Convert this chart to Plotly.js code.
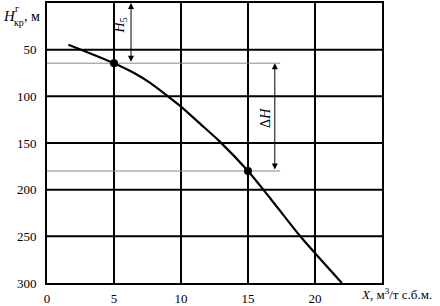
<!DOCTYPE html>
<html><head><meta charset="utf-8">
<script src="https://cdn.plot.ly/plotly-3.0.1.min.js"></script>
<style>html,body{margin:0;padding:0;background:#fff}#c{width:440px;height:306px}</style>
</head><body><div id="c"></div>
<script>
// Curve: critical depth H (m) vs specific water inflow X (m3/t)
const curveX = [1.6, 5, 6.5, 7.7, 9, 10, 11.4, 12.9, 15, 16.7, 18.9, 22];
const curveY = [44.7, 64.5, 75, 85.6, 99.7, 111, 129, 148.5, 180, 210, 250, 300];
// Marked points
const markX = [5, 15];
const markY = [64.5, 180];
// Tick labels
const xTicks = [0, 5, 10, 15, 20];
const yTicks = [50, 100, 150, 200, 250, 300];
const xGrid = [5, 10, 15, 20];
const yGrid = [50, 100, 150, 200, 250];

const font = 'Liberation Serif, Times New Roman, serif';
const W = 440, H = 306, L = 47, R = 58, T = 3, B = 23;
const pw = W - L - R, ph = H - T - B;
function px(x){return (x - L)/pw;}
function py(y){return 1 - (y - T)/ph;}

const shapes = [];
xGrid.forEach(v => shapes.push({type:'line', xref:'x', yref:'paper', x0:v, x1:v, y0:0, y1:1, line:{color:'#000', width:2}, layer:'below'}));
yGrid.forEach(v => shapes.push({type:'line', xref:'paper', yref:'y', x0:0, x1:1, y0:v, y1:v, line:{color:'#000', width:2}, layer:'below'}));
markY.forEach(v => shapes.push({type:'line', xref:'x', yref:'y', x0:0, x1:17.4, y0:v, y1:v, line:{color:'#888', width:1}, layer:'below'}));

const arrowCommon = {text:'', showarrow:true, axref:'x', ayref:'y', xref:'x', yref:'y', arrowhead:2, arrowside:'end+start', arrowsize:1.2, arrowwidth:1, arrowcolor:'#000', standoff:0, startstandoff:0};
function lab(text, x, y, size, xa, ya, extra){
  return Object.assign({text:text, x:px(x), y:py(y), xref:'paper', yref:'paper', xanchor:xa, yanchor:ya, showarrow:false, borderpad:0, font:{family:font, size:size, color:'#000'}}, extra||{});
}
const annotations = [
  Object.assign({}, arrowCommon, {x:6.27, y:0, ax:6.27, ay:markY[0]}),
  Object.assign({}, arrowCommon, {x:17.0, y:markY[0], ax:17.0, ay:markY[1]}),
  {text:'<i>H</i><sub>5</sub>', x:5.45, y:24, xref:'x', yref:'y', showarrow:false, textangle:-90, font:{family:font, size:14, color:'#000'}},
  {text:'Δ<i>H</i>', x:16.35, y:123, xref:'x', yref:'y', showarrow:false, textangle:-90, font:{family:font, size:14, color:'#000'}},
  lab('<i>H</i>', 2, 25, 15, 'left', 'bottom'),
  lab('кр', 13, 29, 10, 'left', 'bottom'),
  lab(', м', 23, 25, 14, 'left', 'bottom'),
  lab('г', 14, 2, 10, 'left', 'top'),
  lab('<i>X</i>, м<sup>3</sup>/т с.б.м.', 360, 285, 13, 'left', 'top')
];

const data = [
  {x:curveX, y:curveY, type:'scatter', mode:'lines', line:{color:'#000', width:2.2, shape:'spline', smoothing:0.7}, hoverinfo:'none'},
  {x:markX, y:markY, type:'scatter', mode:'markers', marker:{color:'#000', size:8}, hoverinfo:'none'}
];
const layout = {
  width:W, height:H, margin:{l:L, r:R, t:T, b:B}, showlegend:false,
  paper_bgcolor:'#fff', plot_bgcolor:'#fff',
  font:{family:font, size:13, color:'#000'},
  xaxis:{range:[0,25], tickvals:xTicks, ticktext:xTicks.map(String), showgrid:false, zeroline:false, showline:true, mirror:true, linecolor:'#000', linewidth:2, ticks:'', ticklabelstandoff:2, tickfont:{family:font, size:13, color:'#000'}},
  yaxis:{range:[300,0], tickvals:yTicks, ticktext:yTicks.map(String), showgrid:false, zeroline:false, showline:true, mirror:true, linecolor:'#000', linewidth:2, ticks:'', ticklabelstandoff:6, tickfont:{family:font, size:13, color:'#000'}},
  shapes:shapes, annotations:annotations
};
Plotly.newPlot('c', data, layout, {displayModeBar:false, staticPlot:true});
</script></body></html>
